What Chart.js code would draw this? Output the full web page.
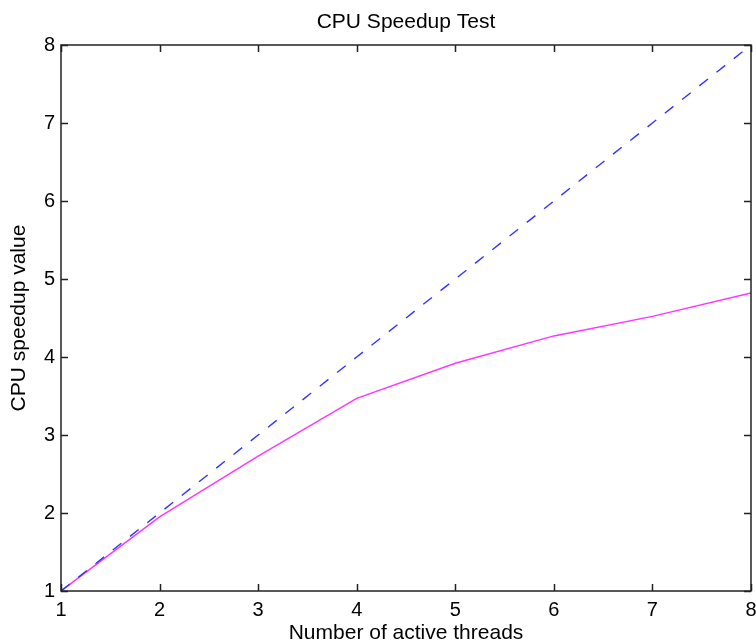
<!DOCTYPE html>
<html>
<head>
<meta charset="utf-8">
<script src="https://cdn.jsdelivr.net/npm/chart.js@4"></script>
<style>
  html, body { margin: 0; padding: 0; background: #fff; }
  canvas { display: block; }
</style>
</head>
<body>
<canvas id="chart" width="756" height="644"></canvas>
<script>
const threads = [1, 2, 3, 4, 5, 6, 7, 8]
const idealSpeedup = [1, 2, 3, 4, 5, 6, 7, 8]
const cpuSpeedup = [1, 1.95, 2.73, 3.47, 3.92, 4.27, 4.52, 4.82]
const tickValues = [1, 2, 3, 4, 5, 6, 7, 8]

const FONT = '"Liberation Sans", Arial, sans-serif'

// MATLAB-like box with ticks pointing inward on all four sides
const boxPlugin = {
  id: 'box',
  afterDraw(chart) {
    const { ctx, chartArea: a, scales } = chart
    ctx.save()
    ctx.strokeStyle = '#222'
    ctx.lineWidth = 1.5
    ctx.strokeRect(a.left, a.top, a.right - a.left, a.bottom - a.top)
    const len = 7
    ctx.beginPath()
    tickValues.forEach((v) => {
      const px = Math.round(scales.x.getPixelForValue(v)) + 0.5
      ctx.moveTo(px, a.bottom); ctx.lineTo(px, a.bottom - len)
      ctx.moveTo(px, a.top); ctx.lineTo(px, a.top + len)
      const py = Math.round(scales.y.getPixelForValue(v)) + 0.5
      ctx.moveTo(a.left, py); ctx.lineTo(a.left + len, py)
      ctx.moveTo(a.right, py); ctx.lineTo(a.right - len, py)
    })
    ctx.stroke()
    ctx.restore()
  },
}

new Chart(document.getElementById('chart'), {
  type: 'line',
  data: {
    labels: threads,
    datasets: [
      {
        label: 'Ideal',
        data: threads.map((t, i) => ({ x: t, y: idealSpeedup[i] })),
        borderColor: '#3333ff',
        borderWidth: 1.4,
        borderDash: [11, 11],
        pointRadius: 0,
        fill: false,
      },
      {
        label: 'CPU speedup',
        data: threads.map((t, i) => ({ x: t, y: cpuSpeedup[i] })),
        borderColor: '#ff33ff',
        borderWidth: 1.4,
        pointRadius: 0,
        fill: false,
      },
    ],
  },
  options: {
    responsive: false,
    animation: false,
    layout: { padding: { left: 0, right: 5, top: 0, bottom: 0 } },
    plugins: {
      legend: { display: false },
      tooltip: { enabled: false },
      title: { display: false },
    },
    scales: {
      // top axis only carries the chart title, centred over the plot box like MATLAB
      top: {
        type: 'linear',
        position: 'top',
        min: 1,
        max: 8,
        grid: { display: false, drawTicks: false },
        border: { display: false },
        ticks: { display: false },
        title: {
          display: true,
          text: 'CPU Speedup Test',
          color: '#000',
          font: { family: FONT, size: 21, lineHeight: 1 },
          padding: { top: 12, bottom: 0 },
        },
        afterFit(scale) {
          scale.height = 45
          scale.paddingLeft = 0
          scale.paddingRight = 0
        },
      },
      x: {
        type: 'linear',
        min: 1,
        max: 8,
        grid: { display: false, drawTicks: false },
        border: { display: false },
        ticks: {
          stepSize: 1,
          color: '#000',
          padding: 7,
          maxRotation: 0,
          autoSkip: false,
          font: { family: FONT, size: 20 },
        },
        title: {
          display: true,
          text: 'Number of active threads',
          color: '#000',
          font: { family: FONT, size: 21, lineHeight: 1 },
          padding: { top: 0, bottom: 0 },
        },
        afterFit(scale) {
          scale.height = 53
          scale.paddingLeft = 0
          scale.paddingRight = 0
        },
      },
      y: {
        type: 'linear',
        min: 1,
        max: 8,
        grid: { display: false, drawTicks: false },
        border: { display: false },
        ticks: {
          stepSize: 1,
          color: '#000',
          padding: 6,
          font: { family: FONT, size: 20 },
        },
        title: {
          display: true,
          text: 'CPU speedup value',
          color: '#000',
          font: { family: FONT, size: 21, lineHeight: 1 },
          padding: { top: 9, bottom: 0 },
        },
        afterFit(scale) {
          scale.width = 61
          scale.paddingTop = 0
          scale.paddingBottom = 0
        },
      },
    },
  },
  plugins: [boxPlugin],
})
</script>
</body>
</html>
